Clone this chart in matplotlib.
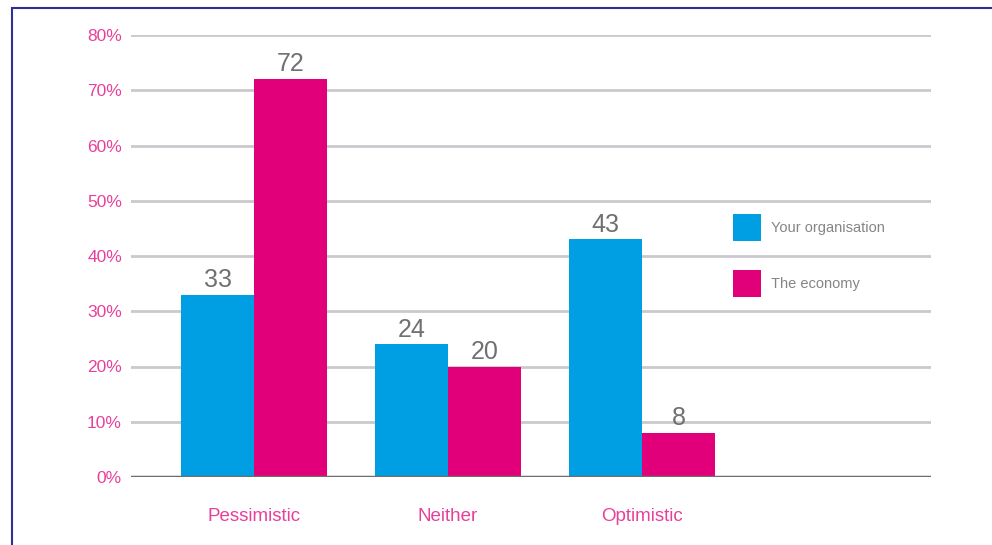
import matplotlib
matplotlib.use("Agg")
import matplotlib.pyplot as plt
import matplotlib.patches as patches
import numpy as np

categories = ["Pessimistic", "Neither", "Optimistic"]
series_names = ["Your organisation", "The economy"]
organisation = [33, 24, 43]
economy = [72, 20, 8]
yticks = [0, 10, 20, 30, 40, 50, 60, 70, 80]

BLUE = "#009fe3"
PINK = "#e2007a"
PINK_TEXT = "#e8409a"
GREY_TEXT = "#707070"

plt.rcParams["font.family"] = ["Liberation Sans", "DejaVu Sans"]

fig = plt.figure(figsize=(9.92, 5.45), dpi=100)
ax = fig.add_axes([131 / 992, 1 - 477 / 545, 800 / 992, 442 / 545])

x = np.arange(len(categories))
w = 0.376
b1 = ax.bar(x - w / 2, organisation, w, color=BLUE, label=series_names[0], zorder=3)
b2 = ax.bar(x + w / 2, economy, w, color=PINK, label=series_names[1], zorder=3)

for bars in (b1, b2):
    ax.bar_label(bars, padding=2, fontsize=18, color=GREY_TEXT)

ax.set_xlim(-0.634, 3.49)
ax.set_ylim(0, 80)
ax.set_yticks(yticks)
ax.set_yticklabels([f"{t}%" for t in yticks])
ax.set_xticks(x)
ax.set_xticklabels(categories)

# gridlines (0% line is drawn as the darker baseline)
for t in yticks[1:]:
    ax.axhline(t, color="#cacace", lw=2, zorder=1)
ax.axhline(0, color="#6d6d72", lw=2.5, zorder=4)

for s in ax.spines.values():
    s.set_visible(False)
ax.tick_params(axis="y", length=0, pad=6.5, labelsize=12.5, labelcolor=PINK_TEXT)
ax.tick_params(axis="x", length=0, pad=22.5, labelsize=13.5, labelcolor=PINK_TEXT)

leg = ax.legend(loc="upper left", bbox_to_anchor=(733 / 992, 1 - 214 / 545),
                bbox_transform=fig.transFigure, frameon=False, fontsize=10.5,
                handlelength=1.92, handleheight=2.45, handletextpad=0.68,
                labelspacing=2.0, borderpad=0, borderaxespad=0)
for t in leg.get_texts():
    t.set_color("#858585")

# page frame (left and top edges)
fig.patches.append(patches.Rectangle((11.5 / 992, -0.05), 1.2, 1.05 - 7.5 / 545,
                                     transform=fig.transFigure, fill=False,
                                     edgecolor="#2e3192", lw=1.5))

fig.savefig("out.png", dpi=100)
